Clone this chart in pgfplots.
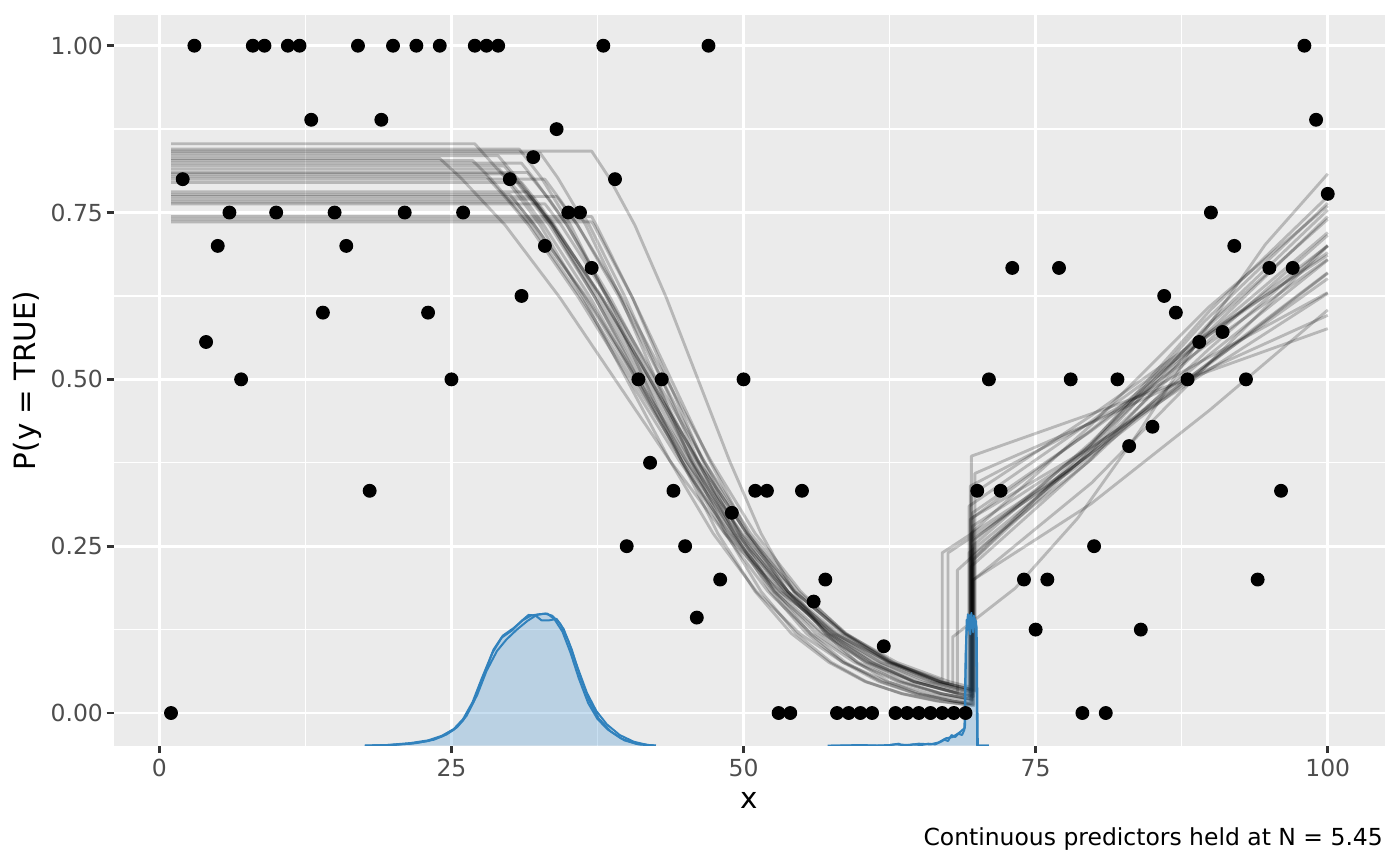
\documentclass[border=0pt]{standalone}
\usepackage{fontspec}
\setmainfont{DejaVu Sans}
\usepackage{pgfplots}
\pgfplotsset{compat=1.18}
\definecolor{panelbg}{HTML}{EBEBEB}
\definecolor{ticklab}{HTML}{4D4D4D}
\definecolor{tickcol}{HTML}{333333}
\definecolor{dblue}{HTML}{3182BD}
\definecolor{dfill}{HTML}{4A98D3}
\pgfplotsset{gl/.style={black, draw opacity=0.22, line width=1.07pt, no markers, line join=round},
  dl/.style={dblue, line width=0.75pt, no markers, line join=round}}
\begin{document}
\begin{tikzpicture}
\path[use as bounding box] (-42.75pt,-45.11pt) rectangle (482.25pt,279.64pt);
\begin{axis}[
  at={(0,0)}, anchor=south west,
  scale only axis, width=476.63pt, height=274.01pt,
  xmin=-3.88, xmax=104.9, ymin=-0.049, ymax=1.046,
  axis background/.style={fill=panelbg},
  axis line style={draw=none},
  xtick={0,25,50,75,100}, xticklabels={0,25,50,75,100},
  ytick={0,0.25,0.5,0.75,1}, yticklabels={0.00,0.25,0.50,0.75,1.00},
  minor xtick={12.5,37.5,62.5,87.5}, minor ytick={0.125,0.375,0.625,0.875},
  grid=both,
  major grid style={white, line width=1.07pt},
  minor grid style={white, line width=0.53pt},
  tick align=outside, tick pos=left,
  major tick length=2.75pt, minor tick length=0pt,
  tick style={tickcol, line width=1.07pt},
  ticklabel style={font=\fontsize{8.8}{10}\selectfont, text=ticklab, inner sep=0pt},
  xticklabel style={anchor=north, yshift=-2.2pt},
  yticklabel style={anchor=east, xshift=-1.2pt},
  xlabel={x}, ylabel={P(y = TRUE)},
  label style={font=\fontsize{11}{13}\selectfont, text=black, inner sep=0pt},
  xlabel style={at={(axis description cs:0.5,-0.0866)}, anchor=base},
  ylabel style={at={(axis description cs:-0.0614,0.5)}, anchor=base},
  /pgf/number format/assume math mode=true,
]
% posterior draws
\addplot[gl] coordinates {(1,0.853)(27.0,0.853)(29.6,0.802)(32.6,0.731)(36.3,0.622)(40.0,0.500)(43.7,0.378)(47.4,0.269)(51.1,0.182)(54.8,0.119)(58.5,0.076)(62.2,0.047)(65.9,0.029)(69.5,0.018)(69.5,0.270)(79.7,0.431)(89.8,0.608)(100,0.760)};
\addplot[gl] coordinates {(1,0.845)(30.8,0.845)(32.7,0.802)(35.2,0.731)(38.3,0.622)(41.5,0.500)(44.7,0.378)(47.8,0.269)(51.0,0.182)(54.1,0.119)(57.3,0.076)(60.4,0.047)(63.6,0.029)(66.7,0.018)(69.6,0.012)(69.6,0.250)(79.7,0.405)(89.9,0.582)(100,0.740)};
\addplot[gl] coordinates {(1,0.842)(37.0,0.842)(38.5,0.802)(40.7,0.731)(43.4,0.622)(46.1,0.500)(48.8,0.378)(51.5,0.269)(54.3,0.182)(57.0,0.119)(59.7,0.076)(62.4,0.047)(65.1,0.029)(67.9,0.018)(69.4,0.014)(69.4,0.290)(79.6,0.422)(89.8,0.566)(100,0.700)};
\addplot[gl] coordinates {(1,0.839)(32.6,0.839)(34.1,0.802)(36.5,0.731)(39.5,0.622)(42.5,0.500)(45.5,0.378)(48.5,0.269)(51.5,0.182)(54.5,0.119)(57.5,0.076)(60.5,0.047)(63.5,0.029)(66.5,0.018)(69.7,0.011)(69.7,0.230)(79.8,0.394)(89.9,0.585)(100,0.754)};
\addplot[gl] coordinates {(1,0.835)(29.0,0.835)(30.6,0.802)(33.6,0.731)(37.3,0.622)(41.0,0.500)(44.7,0.378)(48.4,0.269)(52.1,0.182)(55.8,0.119)(59.5,0.076)(63.2,0.047)(66.9,0.029)(69.3,0.021)(69.3,0.310)(79.5,0.434)(89.8,0.566)(100,0.690)};
\addplot[gl] coordinates {(1,0.831)(24.0,0.831)(25.8,0.802)(29.6,0.731)(34.3,0.622)(39.0,0.500)(43.7,0.378)(48.4,0.269)(53.1,0.182)(57.8,0.119)(62.5,0.076)(67.0,0.049)(67.0,0.240)(78.0,0.366)(89.0,0.514)(100,0.660)};
\addplot[gl] coordinates {(1,0.828)(26.8,0.828)(28.3,0.802)(31.8,0.731)(36.1,0.622)(40.5,0.500)(44.9,0.378)(49.2,0.269)(53.6,0.182)(57.9,0.119)(62.3,0.076)(66.6,0.047)(69.8,0.034)(69.8,0.260)(79.9,0.405)(89.9,0.570)(100,0.720)};
\addplot[gl] coordinates {(1,0.824)(31.0,0.824)(32.0,0.802)(34.9,0.731)(38.4,0.622)(42.0,0.500)(45.6,0.378)(49.1,0.269)(52.7,0.182)(56.2,0.119)(59.8,0.076)(63.4,0.047)(66.9,0.029)(69.5,0.021)(69.5,0.220)(79.7,0.380)(89.8,0.572)(100,0.744)};
\addplot[gl] coordinates {(1,0.820)(29.5,0.820)(30.4,0.802)(33.6,0.731)(37.5,0.622)(41.5,0.500)(45.5,0.378)(49.4,0.269)(53.4,0.182)(57.3,0.119)(61.3,0.076)(65.2,0.047)(69.6,0.028)(69.6,0.300)(79.7,0.422)(89.9,0.555)(100,0.680)};
\addplot[gl] coordinates {(1,0.815)(29.1,0.815)(31.3,0.769)(32.9,0.731)(36.9,0.622)(40.8,0.500)(44.7,0.378)(48.7,0.269)(52.6,0.182)(56.6,0.119)(60.5,0.076)(64.5,0.047)(68.4,0.029)(69.4,0.026)(69.4,0.340)(79.6,0.434)(89.8,0.533)(100,0.630)};
\addplot[gl] coordinates {(1,0.810)(31.5,0.810)(33.4,0.769)(34.9,0.731)(38.6,0.622)(42.3,0.500)(46.0,0.378)(49.7,0.269)(53.5,0.182)(57.2,0.119)(60.9,0.076)(64.6,0.047)(68.3,0.030)(68.3,0.214)(78.9,0.383)(89.4,0.586)(100,0.764)};
\addplot[gl] coordinates {(1,0.808)(30.0,0.808)(31.8,0.769)(33.4,0.731)(37.3,0.622)(41.2,0.500)(45.1,0.378)(49.0,0.269)(52.9,0.182)(56.8,0.119)(60.7,0.076)(64.6,0.047)(68.5,0.029)(69.7,0.025)(69.7,0.200)(79.8,0.345)(89.9,0.525)(100,0.700)};
\addplot[gl] coordinates {(1,0.804)(28.0,0.804)(29.8,0.769)(31.6,0.731)(35.9,0.622)(40.2,0.500)(44.5,0.378)(48.8,0.269)(53.2,0.182)(57.5,0.119)(61.8,0.076)(66.1,0.047)(69.5,0.033)(69.5,0.385)(79.7,0.448)(89.8,0.512)(100,0.576)};
\addplot[gl] coordinates {(1,0.800)(33.0,0.800)(34.3,0.769)(35.8,0.731)(39.4,0.622)(43.0,0.500)(46.6,0.378)(50.2,0.269)(53.8,0.182)(57.4,0.119)(61.0,0.076)(64.6,0.047)(68.3,0.029)(69.6,0.024)(69.6,0.280)(79.7,0.396)(89.9,0.525)(100,0.651)};
\addplot[gl] coordinates {(1,0.795)(31.0,0.795)(32.2,0.769)(33.8,0.731)(37.8,0.622)(41.8,0.500)(45.8,0.378)(49.8,0.269)(53.8,0.182)(57.7,0.119)(61.7,0.076)(65.7,0.047)(69.3,0.031)(69.3,0.240)(79.5,0.387)(89.8,0.558)(100,0.716)};
\addplot[gl] coordinates {(1,0.781)(31.5,0.781)(33.7,0.731)(37.9,0.622)(42.0,0.500)(46.1,0.378)(50.3,0.269)(54.4,0.182)(58.5,0.119)(62.6,0.076)(66.8,0.047)(69.8,0.033)(69.8,0.359)(79.9,0.436)(89.9,0.516)(100,0.596)};
\addplot[gl] coordinates {(1,0.777)(30.0,0.777)(32.1,0.731)(36.5,0.622)(40.8,0.500)(45.1,0.378)(49.5,0.269)(53.8,0.182)(58.1,0.119)(62.4,0.076)(66.8,0.047)(67.5,0.044)(67.5,0.240)(78.3,0.366)(89.2,0.514)(100,0.659)};
\addplot[gl] coordinates {(1,0.774)(34.0,0.774)(35.8,0.731)(39.6,0.622)(43.4,0.500)(47.2,0.378)(51.0,0.269)(54.9,0.182)(58.7,0.119)(62.5,0.076)(66.3,0.047)(69.5,0.032)(69.5,0.327)(79.7,0.445)(89.8,0.570)(100,0.686)};
\addplot[gl] coordinates {(1,0.770)(32.0,0.770)(33.7,0.731)(37.9,0.622)(42.0,0.500)(46.1,0.378)(50.3,0.269)(54.4,0.182)(58.6,0.119)(62.7,0.076)(66.8,0.047)(69.6,0.035)(69.6,0.229)(79.7,0.402)(89.9,0.603)(100,0.774)};
\addplot[gl] coordinates {(1,0.766)(30.5,0.766)(32.1,0.731)(36.6,0.622)(41.0,0.500)(45.4,0.378)(49.9,0.269)(54.3,0.182)(58.7,0.119)(63.1,0.076)(67.6,0.047)(69.4,0.039)(69.4,0.257)(79.6,0.387)(89.8,0.536)(100,0.679)};
\addplot[gl] coordinates {(1,0.763)(33.0,0.763)(34.4,0.731)(38.4,0.622)(42.5,0.500)(46.6,0.378)(50.6,0.269)(54.7,0.182)(58.8,0.119)(62.8,0.076)(66.9,0.047)(67.9,0.042)(67.9,0.114)(73.25,0.187)(78.6,0.292)(83.95,0.424)(89.3,0.568)(94.65,0.702)(100,0.808)};
\addplot[gl] coordinates {(1,0.744)(37.0,0.744)(37.4,0.731)(40.5,0.622)(43.5,0.500)(46.5,0.378)(49.6,0.269)(52.6,0.182)(55.7,0.119)(58.7,0.076)(61.8,0.047)(64.8,0.029)(67.9,0.018)(69.7,0.013)(69.7,0.294)(79.8,0.399)(89.9,0.515)(100,0.629)};
\addplot[gl] coordinates {(1,0.740)(36.5,0.740)(36.8,0.731)(39.9,0.622)(43.0,0.500)(46.1,0.378)(49.2,0.269)(52.3,0.182)(55.4,0.119)(58.5,0.076)(61.6,0.047)(64.7,0.029)(67.9,0.018)(69.5,0.014)(69.5,0.237)(79.7,0.379)(89.8,0.545)(100,0.701)};
\addplot[gl] coordinates {(1,0.736)(37.0,0.736)(37.2,0.731)(40.5,0.622)(43.8,0.500)(47.1,0.378)(50.4,0.269)(53.8,0.182)(57.1,0.119)(60.4,0.076)(63.7,0.047)(67.0,0.029)(69.6,0.020)(69.6,0.199)(79.7,0.313)(89.9,0.454)(100,0.604)};
% observed proportions
\addplot[only marks, mark=*, mark size=2.4pt, black] coordinates {
(1,0.000)(2,0.800)(3,1.000)(4,0.556)(5,0.700)(6,0.750)(7,0.500)(8,1.000)(9,1.000)(10,0.750)
(11,1.000)(12,1.000)(13,0.889)(14,0.600)(15,0.750)(16,0.700)(17,1.000)(18,0.333)(19,0.889)(20,1.000)
(21,0.750)(22,1.000)(23,0.600)(24,1.000)(25,0.500)(26,0.750)(27,1.000)(28,1.000)(29,1.000)(30,0.800)
(31,0.625)(32,0.833)(33,0.700)(34,0.875)(35,0.750)(36,0.750)(37,0.667)(38,1.000)(39,0.800)(40,0.250)
(41,0.500)(42,0.375)(43,0.500)(44,0.333)(45,0.250)(46,0.143)(47,1.000)(48,0.200)(49,0.300)(50,0.500)
(51,0.333)(52,0.333)(53,0.000)(54,0.000)(55,0.333)(56,0.167)(57,0.200)(58,0.000)(59,0.000)(60,0.000)
(61,0.000)(62,0.100)(63,0.000)(64,0.000)(65,0.000)(66,0.000)(67,0.000)(68,0.000)(69,0.000)(70,0.333)
(71,0.500)(72,0.333)(73,0.667)(74,0.200)(75,0.125)(76,0.200)(77,0.667)(78,0.500)(79,0.000)(80,0.250)
(81,0.000)(82,0.500)(83,0.400)(84,0.125)(85,0.429)(86,0.625)(87,0.600)(88,0.500)(89,0.556)(90,0.750)
(91,0.571)(92,0.700)(93,0.500)(94,0.200)(95,0.667)(96,0.333)(97,0.667)(98,1.000)(99,0.889)(100,0.778)};
% change point densities
\addplot[draw=none, fill=dfill, fill opacity=0.3] coordinates {(17.6,-0.049)(19.5,-0.048)(21.5,-0.046)(23.0,-0.042)(24.2,-0.035)(25.2,-0.025)(26.0,-0.011)(26.9,0.017)(27.8,0.058)(28.6,0.095)(29.4,0.116)(30.3,0.127)(31.1,0.139)(31.8,0.146)(32.5,0.148)(33.2,0.149)(33.8,0.141)(34.5,0.122)(35.2,0.090)(35.9,0.052)(36.7,0.015)(37.5,-0.009)(38.4,-0.025)(39.5,-0.038)(40.8,-0.046)(42.5,-0.049)};
\addplot[dl] coordinates {(17.6,-0.049)(19.5,-0.048)(21.5,-0.045)(23.0,-0.041)(24.2,-0.034)(25.2,-0.024)(26.0,-0.009)(26.8,0.016)(27.6,0.052)(28.5,0.090)(29.3,0.113)(30.2,0.124)(31.0,0.138)(31.6,0.147)(32.2,0.146)(32.7,0.139)(33.4,0.139)(34.0,0.141)(34.6,0.126)(35.3,0.095)(36.0,0.055)(36.8,0.018)(37.6,-0.008)(38.6,-0.027)(39.8,-0.041)(41.0,-0.047)(42.5,-0.049)};
\addplot[dl] coordinates {(17.6,-0.049)(19.5,-0.048)(21.5,-0.046)(23.0,-0.042)(24.2,-0.035)(25.2,-0.025)(26.0,-0.011)(26.9,0.017)(27.8,0.058)(28.6,0.095)(29.4,0.116)(30.3,0.127)(31.1,0.139)(31.8,0.146)(32.5,0.148)(33.2,0.149)(33.8,0.141)(34.5,0.122)(35.2,0.090)(35.9,0.052)(36.7,0.015)(37.5,-0.009)(38.4,-0.025)(39.5,-0.038)(40.8,-0.046)(42.5,-0.049)};
\addplot[dl] coordinates {(17.6,-0.049)(20.0,-0.048)(22.0,-0.045)(23.5,-0.040)(24.6,-0.032)(25.5,-0.021)(26.3,-0.004)(27.2,0.027)(28.0,0.063)(28.9,0.093)(29.7,0.110)(30.6,0.125)(31.5,0.138)(32.3,0.147)(33.0,0.149)(33.6,0.146)(34.3,0.134)(35.0,0.108)(35.8,0.068)(36.6,0.030)(37.4,0.003)(38.3,-0.017)(39.4,-0.033)(40.6,-0.043)(41.8,-0.048)(42.5,-0.049)};
\addplot[draw=none, fill=dfill, fill opacity=0.3] coordinates {(57.2,-0.049)(62.5,-0.048)(64.5,-0.047)(66.4,-0.047)(67.2,-0.040)(67.8,-0.033)(68.4,-0.031)(68.9,-0.025)(69.0,0.080)(69.1,0.140)(69.3,0.147)(69.5,0.143)(69.7,0.146)(69.9,0.138)(70.0,-0.049)(71.0,-0.049)};
\addplot[dl] coordinates {(57.2,-0.049)(59.0,-0.049)(61.0,-0.049)(62.5,-0.048)(63.3,-0.046)(63.6,-0.049)(64.5,-0.047)(65.2,-0.048)(65.8,-0.046)(66.4,-0.047)(66.9,-0.043)(67.2,-0.040)(67.5,-0.042)(67.8,-0.033)(68.1,-0.036)(68.4,-0.031)(68.7,-0.033)(68.9,-0.025)(69.0,0.080)(69.1,0.140)(69.2,0.125)(69.3,0.147)(69.4,0.118)(69.5,0.143)(69.6,0.127)(69.7,0.146)(69.8,0.130)(69.9,0.138)(70.0,-0.049)(71.0,-0.049)};
\addplot[dl] coordinates {(57.5,-0.049)(60.0,-0.048)(62.0,-0.049)(63.0,-0.047)(64.2,-0.048)(65.0,-0.046)(66.0,-0.047)(66.7,-0.044)(67.3,-0.038)(67.9,-0.036)(68.5,-0.029)(68.95,-0.022)(69.05,0.110)(69.2,0.148)(69.35,0.122)(69.5,0.150)(69.65,0.121)(69.8,0.141)(69.95,0.128)(70.05,-0.049)(71.0,-0.049)};
\end{axis}
\node[anchor=base east, font=\fontsize{8.8}{10}\selectfont, inner sep=0pt] at (476.0pt,-37.6pt) {Continuous predictors held at N = 5.45};
\end{tikzpicture}
\end{document}
